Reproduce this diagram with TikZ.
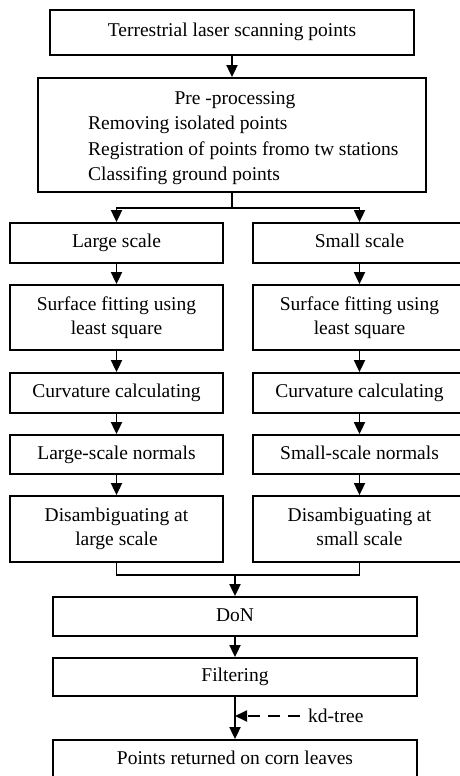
\documentclass[tikz,border=0pt]{standalone}
\usepackage{fontspec}
\setmainfont{Liberation Serif}
\usetikzlibrary{arrows.meta}
\begin{document}
\begin{tikzpicture}[x=1pt,y=-1pt,
  box/.style={draw, line width=1.8pt, inner sep=0pt, align=center, font=\fontsize{19.5}{24}\selectfont},
  one/.style={text height=13pt, text depth=4pt},
  txt/.style={inner sep=0pt, font=\fontsize{19.5}{24}\selectfont},
  arr/.style={line width=1.8pt, -{Triangle[width=11pt,length=12pt]}},
  ln/.style={line width=1.8pt}]
\useasboundingbox (0,0) rectangle (460,776);
\node[box, one, minimum width=364pt, minimum height=45pt] (tls) at (232,32.5) {Terrestrial laser scanning points};
\node[box, minimum width=388pt, minimum height=114pt] (pre) at (232,135) {};
\node[txt, anchor=base] (pre1) at (235,104) {Pre -processing};
\node[txt, anchor=base west] (pre2) at (88,129) {Removing isolated points};
\node[txt, anchor=base west] (pre3) at (88,155) {Registration of points fromo tw stations};
\node[txt, anchor=base west] (pre4) at (88,180) {Classifing ground points};
% left column
\node[box, one, minimum width=213pt, minimum height=40pt] (ls) at (116.5,243) {Large scale};
\node[box, minimum width=213pt, minimum height=65pt] (lf) at (116.5,317.5) {Surface fitting using\strut\\least square\strut};
\node[box, one, minimum width=213pt, minimum height=40pt] (lc) at (116.5,393) {Curvature calculating};
\node[box, one, minimum width=213pt, minimum height=39pt] (ln) at (116.5,454.5) {Large-scale normals};
\node[box, minimum width=213pt, minimum height=66pt] (ld) at (116.5,529) {Disambiguating at\strut\\large scale\strut};
% right column
\node[box, one, minimum width=213pt, minimum height=40pt] (ss) at (359.5,243) {Small scale};
\node[box, minimum width=213pt, minimum height=65pt] (sf) at (359.5,317.5) {Surface fitting using\strut\\least square\strut};
\node[box, one, minimum width=213pt, minimum height=40pt] (sc) at (359.5,393) {Curvature calculating};
\node[box, one, minimum width=213pt, minimum height=39pt] (sn) at (359.5,454.5) {Small-scale normals};
\node[box, minimum width=213pt, minimum height=66pt] (sd) at (359.5,529) {Disambiguating at\strut\\small scale\strut};
% bottom
\node[box, one, minimum width=364pt, minimum height=39pt] (don) at (235,616.5) {DoN};
\node[box, one, minimum width=364pt, minimum height=38pt] (filt) at (235,677) {Filtering};
\node[box, one, minimum width=364pt, minimum height=40pt] (pts) at (235,760) {Points returned on corn leaves};
\node[txt, anchor=west, inner xsep=8pt] (kd) at (300,716) {kd-tree};
\coordinate (kdend) at (235,716);
% connectors
\draw[arr] (tls) -- (pre);
\draw[ln] (pre.south) -- ++(0,15) coordinate (split);
\draw[arr] (split) -| (ls.north);
\draw[arr] (split) -| (ss.north);
\draw[arr] (ls) -- (lf);
\draw[arr] (lf) -- (lc);
\draw[arr] (lc) -- (ln);
\draw[arr] (ln) -- (ld);
\draw[arr] (ss) -- (sf);
\draw[arr] (sf) -- (sc);
\draw[arr] (sc) -- (sn);
\draw[arr] (sn) -- (sd);
\draw[ln] (ld.south) -- ++(0,12) coordinate (jl) -- (jl -| sd.south) coordinate (jr) -- (sd.south);
\coordinate (jm) at (jl -| don.north);
\draw[arr] (jm) -- (don.north);
\draw[arr] (don) -- (filt);
\draw[arr] (filt) -- (pts);
\draw[arr, dash pattern=on 12pt off 8pt] (kd.west) -- (kdend);
\end{tikzpicture}
\end{document}
